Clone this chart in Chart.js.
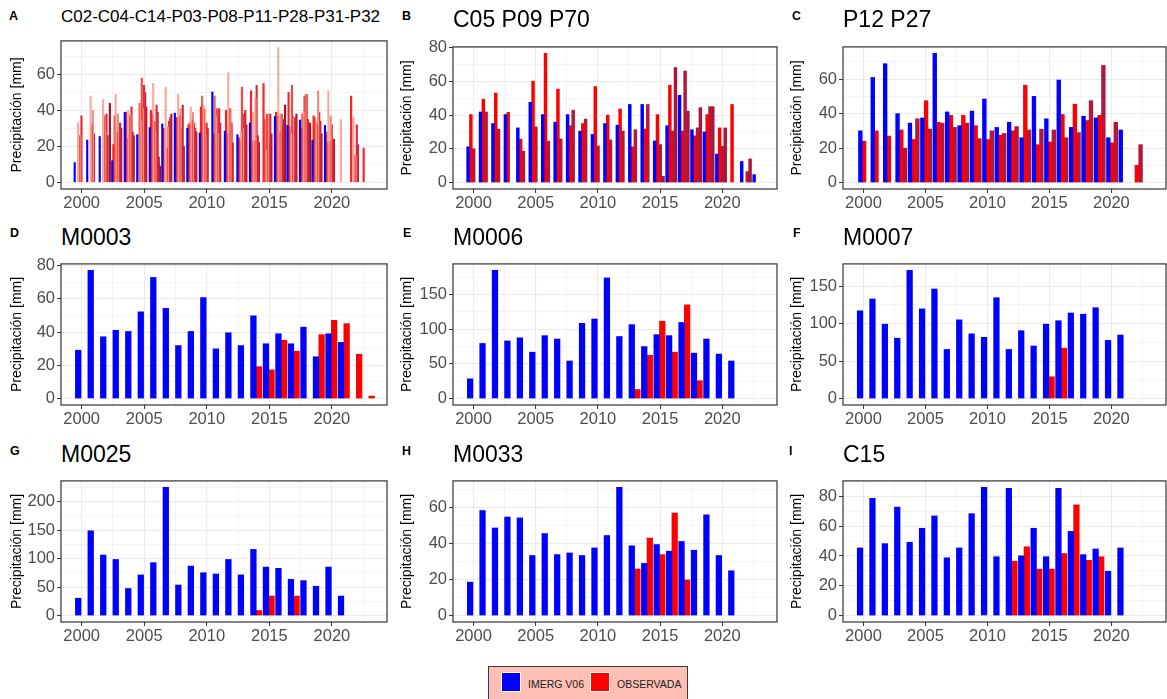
<!DOCTYPE html>
<html>
<head>
<meta charset="utf-8">
<title>Precipitación</title>
<script src="https://cdn.jsdelivr.net/npm/chart.js@4.4.1/dist/chart.umd.min.js"></script>
<style>
  body { margin: 0; width: 1167px; height: 699px; overflow: hidden; position: relative; background: #fff;
         font-family: "Liberation Sans", Arial, sans-serif; }
  canvas { position: absolute; }
  .tag { position: absolute; font-weight: bold; font-size: 12.5px; line-height: 12px; color: #000; }
  .ttl { position: absolute; font-size: 23px; line-height: 23px; color: #000; white-space: nowrap; }
  .ttl.small { font-size: 17px; line-height: 17px; }
  #legend { position: absolute; left: 488px; top: 666px; width: 198px; height: 40px;
            background: #FFBFB4; border: 1px solid #3a3a3a; }
  .key { position: absolute; top: 5px; width: 18px; height: 18px; border: 1px solid #fff; }
  .lab { position: absolute; top: 7px; font-size: 10.5px; line-height: 20px; color: #222; white-space: nowrap; }
</style>
</head>
<body>
<div id="legend">
  <div class="key" style="left:12px;background:#0000FF"></div>
  <div class="lab" style="left:39px">IMERG V06</div>
  <div class="key" style="left:101px;background:#FF0000"></div>
  <div class="lab" style="left:128px">OBSERVADA</div>
</div>
<script>
// ---- data -------------------------------------------------------------
const years = [2000, 2001, 2002, 2003, 2004, 2005, 2006, 2007, 2008, 2009, 2010, 2011,
               2012, 2013, 2014, 2015, 2016, 2017, 2018, 2019, 2020, 2021, 2022, 2023];

// A: C02-C04-C14-P03-P08-P11-P28-P31-P32
const aImerg = [11, 23.5, 25.5, 12, 39, 26.5, 30.5, 32.5, 38.5, 30, 27.5, 50.3, 28.5, 26.5, 33, null, 36.6, 31.7, 34.7, 23.5, 31.7, null, null, null];
const aC02 = [null, null, null, 21, 39, null, 40, 30, 36, 32, 42, 27, 40, 25, 51, 55, 39, 50, 30, 37, 28, null, 48, 19];
const aC04 = [null, null, null, 37, 24, 44, 38, null, 36, 33, 48, 48, 27, 24, 23, 35, 37, 31, 38, 36, 22, null, null, null];
const aC14 = [33, 48, 46, 49, 40, 34, 55, 53, 49, 42, 43, 37, 61, 28, 39, 18, 75, 27, 39, 34, 51, 35, 36, null];
const aP03 = [26, 32, 37, 28, 37, 58, 34, 19, 37, 35, 41, 41, 41, 53, 23, 38, 28, 54, 48, 32, 23, null, 15, null];
const aP08 = [26, 40, 29, 38, 38, 41, 28, 31, 41, 39, 26, 27, 41, 30, 47, 38, 38, 37, 49, 51, 37, null, 15, null];
const aP11 = [37, 27, 38, 28, 42, 54, 43, 34, 30, 33, 33, 41, 33, 38, 54, 24, 38, 36, 49, 39, 32, null, 32, null];
const aP28 = [null, null, 26, 33, 28, 50, 39, 36, 43, 30, 30, 33, 22, 40, 26, 38, 31, 36, 35, 34, 23, null, 21, null];
const aP31 = [null, null, null, 30, 26, 42, 14, 38, 20, 28, null, null, null, 32, 22, 27, 35, 38, 33, 27, 24, null, null, null];
const aP32 = [null, null, 44, null, null, null, 9, null, null, null, null, null, null, null, null, null, 43, null, 33, null, null, null, null, null];

// B: C05 P09 P70
const bImerg = [21.2, 41.8, 35, 40.3, 32.4, 47.6, 40.3, 35.8, 40.3, 30.5, 28.5, 35, 34, 46.3, 46.3, 24.7, 33.7, 51.7, 31.3, 30, 16.9, null, 12.5, 4.7];
const bC05 = [40.3, 49.4, 53, 41.6, 25.7, 60.1, 76.6, 55.4, 33.7, 35, 56.9, 40, 43.6, 21.2, 31.8, 40.3, 57.7, 30.5, 27.7, 40.3, 32.4, 46.3, null, null];
const bP09 = [20, 41.8, 31.6, null, 18.5, 33, 24.5, 25.8, 42.9, 37.6, 21.7, 25.3, 30.5, 31.3, 46.3, 22.5, 30.5, 66.1, 32.4, 45, 21.5, null, 6.5, null];
const bP70 = [null, null, null, null, null, null, null, null, null, null, null, null, null, null, null, 3.7, 68.2, 42.3, 44.4, 45, 32.4, null, 14, null];

// C: P12 P27
const cImerg = [30, 61, 69, 40, 34.5, 37.5, 75, 41, 33, 41.5, 48.5, 32, 35, 26, 50, 37, 59.5, 32, 38.5, 37.5, 26, 30.5, null, null];
const cP12 = [24, 30, 27, 30.5, 25, 47.5, 35, 39, 39, 33, 25, 27.5, 30, 56.5, 22, 23.5, 39.5, 45.5, 36, 39, 23, null, 10, null];
const cP27 = [null, null, null, 20, 37, 31, 34.5, 32, 34.5, 25.5, 30, 28.5, 32.5, 30.5, 31, 30.5, 26, 29, 47.5, 68, 35, null, 22, null];

// D: M0003
const dImerg = [29.1, 77.2, 37.2, 41.1, 40.4, 52.2, 72.9, 54.3, 31.9, 40.4, 60.8, 29.9, 39.6, 31.9, 49.8, 33, 39, 33, 43, 25.2, 39, 33.8, null, null];
const dObs = [null, null, null, null, null, null, null, null, null, null, null, null, null, null, 19.2, 17.3, 35.1, 28.5, null, 38.5, 47.1, 45.1, 26.7, 1.5];

// E: M0006
const eImerg = [28.5, 79.5, 185, 83.1, 87.7, 66.9, 90.8, 85.9, 54.2, 108.5, 114.8, 174, 89.5, 106.6, 75, 92.2, 90.8, 109.8, 65.5, 85.9, 64.2, 54.2, null, null];
const eObs = [null, null, null, null, null, null, null, null, null, null, null, null, null, 13.1, 62.4, 111.6, 66.9, 135.1, 25.8, null, null, null, null, null];

// F: M0007
const fImerg = [117.2, 133, 99.3, 80.6, 171.2, 119.7, 146.2, 65.6, 105.1, 86.4, 81.8, 134.6, 65.6, 90.6, 70.2, 99.3, 103.9, 114.2, 112.6, 121.3, 77.7, 84.8, null, null];
const fObs = [null, null, null, null, null, null, null, null, null, null, null, null, null, null, null, 29.1, 67.3, null, null, null, null, null, null, null];

// G: M0025
const gImerg = [30.5, 149, 106.4, 98.6, 47.6, 71.5, 93, 225.5, 53.7, 87, 75.3, 73.1, 98.6, 71.5, 116.3, 85.3, 83.1, 63.7, 61.5, 51.5, 85.3, 34.3, null, null];
const gObs = [null, null, null, null, null, null, null, null, null, null, null, null, null, null, 8.9, 34.3, null, 34.3, null, null, null, null, null, null];

// H: M0033
const hImerg = [18.6, 58.4, 48.7, 54.8, 54.3, 33.4, 45.6, 33.9, 34.8, 33.4, 37.6, 44.5, 71.3, 38.8, 29, 39.5, 35.8, 41.2, 36.3, 56, 33.4, 24.9, null, null];
const hObs = [null, null, null, null, null, null, null, null, null, null, null, null, null, 25.9, 43.1, 33.9, 57, 19.8, null, null, null, null, null, null];

// I: C15
const iImerg = [45.4, 78.7, 48.3, 72.8, 49.2, 58.6, 66.9, 38.8, 45.4, 68.4, 86.1, 39.5, 85.4, 40.1, 58.6, 39.5, 85.4, 56.5, 40.9, 44.7, 29.7, 45.4, null, null];
const iObs = [null, null, null, null, null, null, null, null, null, null, null, null, 36.5, 46.2, 31.2, 31.2, 41.6, 74.3, 37.1, 39.5, null, null, null, null];

// ---- look ---------------------------------------------------------------
const FONT = '"Liberation Sans", Arial, sans-serif';
const BLUE = '#0000FF', RED = '#FF0000', CRIMSON = '#B3173C';
const GRID = '#EBEBEB', AXIS = '#333333', TICKTXT = '#4D4D4D';
const X_MIN = 1998.35, X_MAX = 2024.4;
const GROUP = 0.9;

const cols = [{ b: 0, l: 61, r: 387 }, { b: 390, l: 453, r: 777 }, { b: 780, l: 843, r: 1166 }];
const rows = [{ t: 39, bt: 189, ttlTop: 7.8, tagTop: 10 }, { t: 256, bt: 405, ttlTop: 225.5, tagTop: 226.5 }, { t: 473, bt: 622, ttlTop: 442.8, tagTop: 444.8 }];

const panels = [
  { tag: 'A', tagX: 9, title: 'C02-C04-C14-P03-P08-P11-P28-P31-P32', small: true, col: 0, row: 0, top: 33,
    slots: 10, shift: -0.15, step: 20,
    series: [
      { name: 'IMERG V06', values: aImerg, color: BLUE },
      { name: 'C02', values: aC02, color: '#FF2020' },
      { name: 'C04', values: aC04, color: '#F0675C' },
      { name: 'C14', values: aC14, color: '#F8AA9E' },
      { name: 'P03', values: aP03, color: '#EE4A44' },
      { name: 'P08', values: aP08, color: '#F28B80' },
      { name: 'P11', values: aP11, color: '#DC2B3A' },
      { name: 'P28', values: aP28, color: '#C8243E' },
      { name: 'P31', values: aP31, color: '#B31A38' },
      { name: 'P32', values: aP32, color: '#9B1230' }
    ] },
  { tag: 'B', tagX: 402, title: 'C05 P09 P70', col: 1, row: 0, slots: 4, shift: -0.1, step: 20,
    series: [
      { name: 'IMERG V06', values: bImerg, color: BLUE },
      { name: 'C05', values: bC05, color: RED },
      { name: 'P09', values: bP09, color: CRIMSON },
      { name: 'P70', values: bP70, color: '#A8163A' }
    ] },
  { tag: 'C', tagX: 792, title: 'P12 P27', col: 2, row: 0, slots: 3, shift: 0.05, step: 20,
    series: [
      { name: 'IMERG V06', values: cImerg, color: BLUE },
      { name: 'P12', values: cP12, color: RED },
      { name: 'P27', values: cP27, color: CRIMSON }
    ] },
  { tag: 'D', tagX: 10, title: 'M0003', col: 0, row: 1, slots: 2, shift: -0.05, step: 20,
    series: [{ name: 'IMERG V06', values: dImerg, color: BLUE }, { name: 'OBSERVADA', values: dObs, color: RED }] },
  { tag: 'E', tagX: 403, title: 'M0006', col: 1, row: 1, slots: 2, shift: -0.05, step: 50,
    series: [{ name: 'IMERG V06', values: eImerg, color: BLUE }, { name: 'OBSERVADA', values: eObs, color: RED }] },
  { tag: 'F', tagX: 793, title: 'M0007', col: 2, row: 1, slots: 2, shift: -0.05, step: 50,
    series: [{ name: 'IMERG V06', values: fImerg, color: BLUE }, { name: 'OBSERVADA', values: fObs, color: RED }] },
  { tag: 'G', tagX: 10, title: 'M0025', col: 0, row: 2, slots: 2, shift: -0.05, step: 50,
    series: [{ name: 'IMERG V06', values: gImerg, color: BLUE }, { name: 'OBSERVADA', values: gObs, color: RED }] },
  { tag: 'H', tagX: 402, title: 'M0033', col: 1, row: 2, slots: 2, shift: -0.05, step: 20,
    series: [{ name: 'IMERG V06', values: hImerg, color: BLUE }, { name: 'OBSERVADA', values: hObs, color: RED }] },
  { tag: 'I', tagX: 789, title: 'C15', col: 2, row: 2, slots: 2, shift: -0.05, step: 20,
    series: [{ name: 'IMERG V06', values: iImerg, color: BLUE }, { name: 'OBSERVADA', values: iObs, color: RED }] }
];

// panel frame (ggplot panel.border)
const frame = {
  id: 'frame',
  afterDraw(chart) {
    const { ctx, chartArea: a } = chart;
    ctx.save();
    ctx.strokeStyle = AXIS;
    ctx.lineWidth = 1.2;
    ctx.strokeRect(a.left, a.top, a.right - a.left, a.bottom - a.top);
    ctx.restore();
  }
};

const xTicks = [];
for (let v = 2000; v <= X_MAX; v += 2.5) xTicks.push(v);
const isMajorX = v => v % 5 === 0;

function addText(cls, left, top, text) {
  const d = document.createElement('div');
  d.className = cls;
  d.style.left = left + 'px';
  d.style.top = top + 'px';
  d.textContent = text;
  document.body.appendChild(d);
}

panels.forEach(p => {
  const c = cols[p.col], r = rows[p.row];
  const top = p.top || r.t;
  addText('tag', p.tagX, r.tagTop, p.tag);
  addText(p.small ? 'ttl small' : 'ttl', c.l, p.small ? 8.3 : r.ttlTop, p.title);

  const cv = document.createElement('canvas');
  cv.width = c.r - c.b + 4;
  cv.height = r.bt - top + 4 + 34;
  cv.style.left = c.b + 'px';
  cv.style.top = (top - 4) + 'px';
  document.body.appendChild(cv);

  const slotW = GROUP / p.slots;
  // very thin bars (panel A) get a minimum width so they read as solid, like the original
  const barPx = Math.max(1.5, slotW * (c.r - c.l) / (X_MAX - X_MIN));
  const datasets = p.series.map((s, k) => ({
    label: s.name,
    data: years.map((yr, i) => s.values[i] == null ? null
      : { x: yr + p.shift + (k - (p.slots - 1) / 2) * slotW, y: s.values[i] }).filter(Boolean),
    backgroundColor: s.color,
    borderWidth: 0,
    barThickness: barPx,
    grouped: false
  }));

  const vmax = Math.max(...p.series.flatMap(s => s.values.filter(v => v != null)));
  const yMax = vmax * 1.05, yMin = -vmax * 0.05;
  const yTicks = [];
  for (let v = 0; v <= yMax; v += p.step / 2) yTicks.push(v);
  const isMajorY = v => Math.abs(v / p.step - Math.round(v / p.step)) < 1e-6;

  new Chart(cv, {
    type: 'bar',
    data: { datasets },
    options: {
      responsive: false,
      animation: false,
      devicePixelRatio: 1,
      layout: { padding: { left: 0, top: 4, right: 4, bottom: 0 } },
      plugins: { legend: { display: false }, tooltip: { enabled: false } },
      scales: {
        x: {
          type: 'linear', min: X_MIN, max: X_MAX, offset: false,
          afterBuildTicks: s => { s.ticks = xTicks.map(v => ({ value: v })); },
          afterFit: s => { s.height = 34; },
          border: { display: false },
          grid: {
            offset: false, color: GRID,
            lineWidth: ctx => (ctx.tick && isMajorX(ctx.tick.value)) ? 1.1 : 0.55,
            tickLength: 4, tickWidth: 1,
            tickColor: ctx => (ctx.tick && isMajorX(ctx.tick.value)) ? AXIS : 'rgba(0,0,0,0)'
          },
          ticks: {
            autoSkip: false, maxRotation: 0, padding: 1, color: TICKTXT,
            font: { size: 16.5, family: FONT },
            callback: v => isMajorX(v) ? String(v) : ''
          }
        },
        y: {
          min: yMin, max: yMax,
          afterBuildTicks: s => { s.ticks = yTicks.map(v => ({ value: v })); },
          afterFit: s => { s.width = c.l - c.b; },
          border: { display: false },
          grid: {
            color: GRID,
            lineWidth: ctx => (ctx.tick && isMajorY(ctx.tick.value)) ? 1.1 : 0.55,
            tickLength: 4, tickWidth: 1,
            tickColor: ctx => (ctx.tick && isMajorY(ctx.tick.value)) ? AXIS : 'rgba(0,0,0,0)'
          },
          ticks: {
            autoSkip: false, padding: 2, color: TICKTXT,
            font: { size: 16.5, family: FONT },
            callback: v => isMajorY(v) ? String(v) : ''
          },
          title: {
            display: true, text: 'Precipitación [mm]', color: '#000',
            font: { size: 14, family: FONT }, padding: { top: 9, bottom: 0 }
          }
        }
      }
    },
    plugins: [frame]
  });
});
</script>
</body>
</html>
